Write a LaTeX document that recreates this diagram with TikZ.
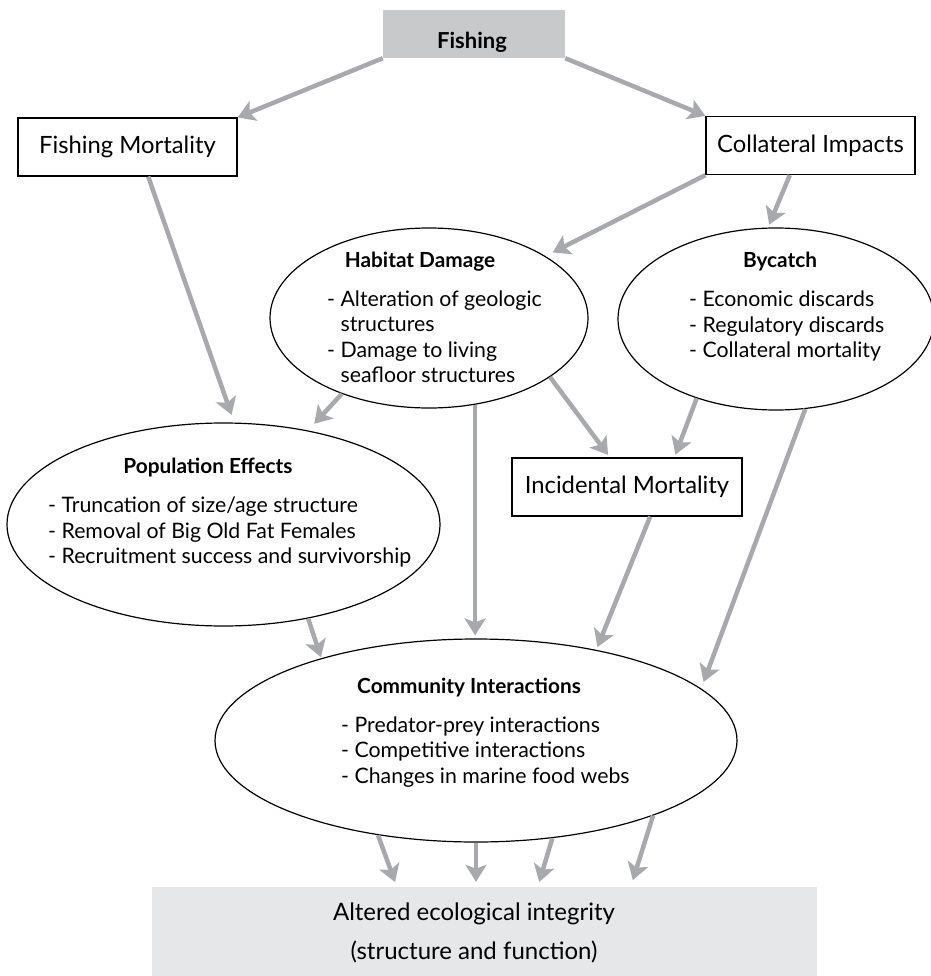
\documentclass[tikz,border=0pt]{standalone}
\usepackage{fontspec}
\setmainfont{Lato}
\usetikzlibrary{arrows.meta,shapes.geometric}

\definecolor{arrowgray}{HTML}{A7A9AC}
\definecolor{topgray}{HTML}{C8C9CB}
\definecolor{basegray}{HTML}{E6E7E8}

\begin{document}
\begin{tikzpicture}[x=1pt,y=-1pt]

\tikzstyle{frame}=[draw,line width=1.2pt,inner sep=0pt,font=\fontsize{23.8}{26}\selectfont]
\tikzstyle{oval}=[draw,ellipse,line width=1.2pt,inner sep=0pt]
\tikzstyle{title}=[inner sep=0pt,font=\bfseries\fontsize{20.8}{24}\selectfont]
\tikzstyle{list}=[inner sep=0pt,anchor=west,align=left,font=\fontsize{21.3}{25.5}\selectfont]
\tikzstyle{flow}=[line width=4.5pt,arrowgray,-{Stealth[length=17pt,width=21pt,inset=4pt]}]

\useasboundingbox (0,0) rectangle (930,976);

\node (fish) [draw=none,fill=topgray,minimum width=182pt,minimum height=48pt] at (474,34) {};
\node (fishtxt) [title,font=\bfseries\fontsize{22}{24}\selectfont] at (472,42) {Fishing};

\node (fm) [frame,minimum width=219pt,minimum height=58pt] at (127.5,147) {Fishing Mortality};
\node (ci) [frame,minimum width=209pt,minimum height=58pt] at (810.5,145.5) {Collateral Impacts};

\node (hab) [oval,minimum width=318pt,minimum height=180pt] at (429,318) {};
\node (habtitle) [title] at (420,262) {Habitat Damage};
\node (hablist) [list] at (327,336.5) {- Alteration of geologic\\\phantom{- }structures\\- Damage to living\\\phantom{- }seafloor structures};

\node (byc) [oval,minimum width=316pt,minimum height=182pt] at (776,319) {};
\node (byctitle) [title] at (780,262) {Bycatch};
\node (byclist) [list] at (689,326) {- Economic discards\\- Regulatory discards\\- Collateral mortality};

\node (pop) [oval,minimum width=433pt,minimum height=203pt] at (223.5,524.5) {};
\node (poptitle) [title] at (208,468) {Population Effects};
\node (poplist) [list] at (48,532) {- Truncation of size/age structure\\- Removal of Big Old Fat Females\\- Recruitment success and survivorship};

\node (inc) [frame,minimum width=230pt,minimum height=58pt] at (627,487) {Incidental Mortality};

\node (comm) [oval,minimum width=522pt,minimum height=203pt] at (476,740.5) {};
\node (commtitle) [title] at (469,688) {Community Interactions};
\node (commlist) [list] at (341,752) {- Predator-prey interactions\\- Competitive interactions\\- Changes in marine food webs};

\node (alt) [draw=none,fill=basegray,minimum width=665pt,minimum height=89pt,inner sep=0pt] at (484.5,931.5) {};
\node (alttxt) [align=center,inner sep=0pt,font=\fontsize{24}{39}\selectfont] at (474,933) {Altered ecological integrity\\(structure and function)};

\draw [flow] (fish.south west) -- (fm.north east);
\draw [flow] (fish.south east) -- (ci.north west);
\draw [flow,shorten >=8pt] (fm.-55) -- (pop.84.7);
\draw [flow,shorten >=8pt] (ci.south west) -- (hab.28);
\draw [flow,shorten >=3pt] (ci.-125) -- (byc.95);
\draw [flow,shorten >=9pt] (hab.-139) -- (pop.48.5);
\draw [flow,shorten >=3pt] (hab.-62) -- (hab.-62 |- comm.north);
\draw [flow,shorten >=3pt] (hab.-26) -- (inc.120);
\draw [flow,shorten >=3pt] (byc.-135) -- (inc.32);
\draw [flow,shorten >=3pt] (inc.-52) -- (comm.37);
\draw [flow,shorten >=7pt] (byc.-72) -- (comm.13);
\draw [flow,shorten >=1pt] (pop.-48) -- (comm.152);
\draw [flow,shorten >=5pt] (comm.-136) -- (alt.153);
\draw [flow,shorten >=5pt] (comm.south) -- (comm.south |- alt.north);
\draw [flow,shorten >=5pt] (comm.-52) -- (alt.40.3);
\draw [flow,shorten >=7pt] (comm.-23.7) -- (alt.17.6);

\end{tikzpicture}
\end{document}
